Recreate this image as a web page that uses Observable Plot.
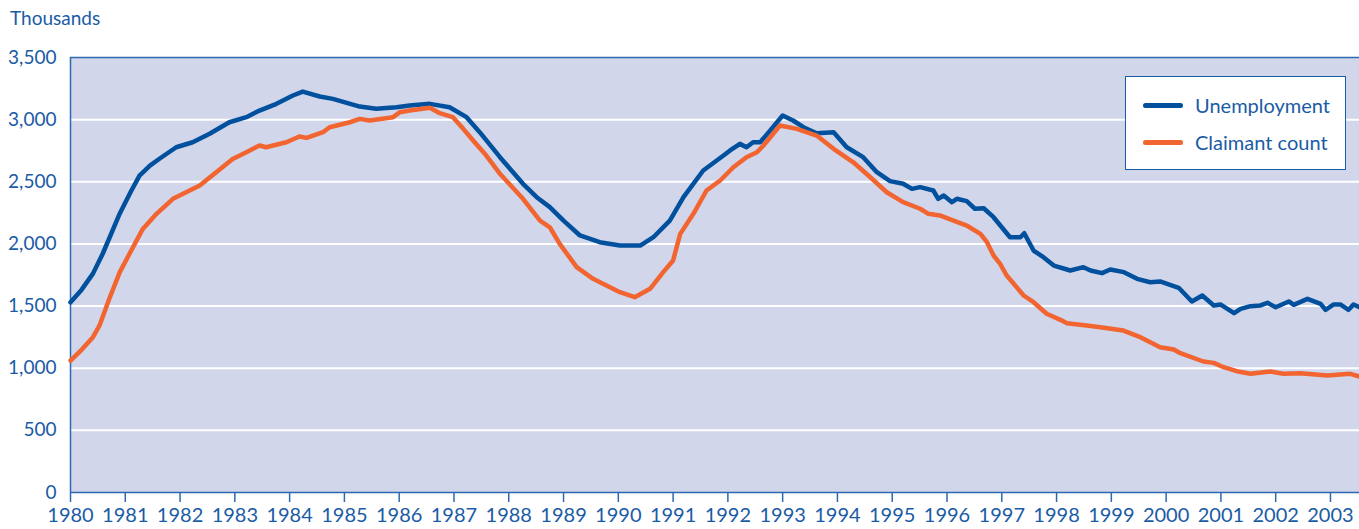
<!DOCTYPE html>
<html><head><meta charset="utf-8">
<script src="https://cdn.jsdelivr.net/npm/d3@7"></script>
<script src="https://cdn.jsdelivr.net/npm/@observablehq/plot@0.6"></script>
<style>
body{margin:0;background:#fff;font-family:Lato,"Open Sans",sans-serif;}
#wrap{position:relative;width:1359px;height:529px;overflow:hidden}
#title{position:absolute;left:10px;top:6px;font-size:19px;color:#1a5ba6}
#legend{position:absolute;left:1125px;top:76px;width:221px;height:94px;background:#fff;border:1.5px solid #1a5ba6;box-sizing:border-box}
.row{position:absolute;left:0;height:22px}
.sw{position:absolute;left:17px;width:40px;height:5px;border-radius:3px}
.lbl{position:absolute;left:69px;font-size:20px;color:#1a5ba6;white-space:nowrap;line-height:22px}
</style></head>
<body>
<div id="wrap">
<div id="chart"></div>
<div id="title">Thousands</div>
<div id="legend"></div>
</div>
<script>
const unempYears = [1980.0,1980.2,1980.41,1980.59,1980.90,1981.1,1981.26,1981.45,1981.63,1981.93,1982.23,1982.54,1982.90,1983.21,1983.45,1983.76,1984.06,1984.24,1984.55,1984.79,1985.28,1985.58,1985.95,1986.19,1986.56,1986.92,1987.23,1987.47,1987.84,1988.26,1988.51,1988.75,1989.0,1989.30,1989.66,1990.03,1990.40,1990.64,1990.94,1991.19,1991.55,1991.92,1992.04,1992.22,1992.34,1992.46,1992.59,1992.77,1993.00,1993.19,1993.38,1993.62,1993.93,1994.17,1994.47,1994.72,1994.96,1995.20,1995.36,1995.51,1995.75,1995.84,1995.94,1996.09,1996.18,1996.36,1996.51,1996.67,1996.85,1997.15,1997.34,1997.41,1997.58,1997.76,1997.95,1998.25,1998.49,1998.62,1998.83,1998.98,1999.23,1999.47,1999.71,1999.89,2000.02,2000.23,2000.47,2000.66,2000.87,2000.99,2001.24,2001.36,2001.54,2001.72,2001.85,2002.00,2002.24,2002.33,2002.58,2002.82,2002.91,2003.06,2003.18,2003.33,2003.42,2003.53];
const unempValues = [1530,1630,1761,1923,2245,2420,2550,2630,2687,2778,2818,2886,2979,3020,3073,3127,3194,3226,3186,3167,3105,3087,3100,3114,3127,3100,3020,2899,2698,2484,2376,2296,2188,2068,2014,1987,1987,2054,2188,2376,2591,2711,2752,2805,2778,2818,2818,2912,3033,2993,2939,2891,2899,2778,2698,2577,2505,2484,2443,2457,2430,2363,2390,2336,2363,2344,2283,2287,2215,2054,2054,2086,1947,1893,1826,1786,1813,1786,1765,1794,1773,1719,1692,1698,1679,1647,1537,1585,1505,1513,1443,1478,1499,1505,1526,1491,1537,1510,1558,1518,1470,1513,1513,1470,1513,1491];
const claimYears = [1980.0,1980.16,1980.41,1980.53,1980.71,1980.90,1981.08,1981.32,1981.57,1981.87,1982.11,1982.36,1982.66,1982.96,1983.21,1983.45,1983.57,1983.94,1984.18,1984.31,1984.61,1984.73,1985.10,1985.28,1985.46,1985.89,1986.01,1986.19,1986.56,1986.74,1986.98,1987.17,1987.35,1987.59,1987.84,1988.26,1988.57,1988.75,1988.93,1989.24,1989.54,1989.72,1990.03,1990.30,1990.58,1990.82,1991.00,1991.13,1991.37,1991.61,1991.86,1992.10,1992.34,1992.53,1992.65,1992.95,1993.26,1993.62,1993.93,1994.29,1994.60,1994.90,1995.20,1995.51,1995.66,1995.87,1996.12,1996.36,1996.61,1996.73,1996.85,1996.97,1997.09,1997.40,1997.58,1997.82,1998.07,1998.19,1998.55,1998.80,1999.22,1999.53,1999.89,2000.14,2000.26,2000.68,2000.87,2001.05,2001.29,2001.54,2001.90,2002.14,2002.45,2002.94,2003.36,2003.53];
const claimValues = [1062,1129,1250,1344,1561,1773,1923,2121,2242,2363,2416,2470,2577,2684,2738,2792,2778,2818,2864,2853,2899,2939,2979,3006,2993,3020,3060,3073,3095,3052,3020,2926,2832,2711,2564,2363,2188,2134,2001,1813,1719,1679,1612,1571,1639,1773,1867,2081,2242,2430,2510,2617,2698,2738,2792,2953,2926,2872,2765,2657,2537,2416,2336,2283,2242,2229,2188,2148,2081,2014,1907,1840,1746,1585,1531,1438,1389,1362,1344,1330,1303,1250,1169,1151,1121,1054,1043,1008,976,955,974,955,960,941,955,933];
const yearTicks = d3.range(1980, 2004);
const valueTicks = [0,500,1000,1500,2000,2500,3000,3500];
const seriesNames = ["Unemployment","Claimant count"];
const seriesColors = ["#00509e","#f26430"];

const unemp = unempYears.map((y,i)=>({year:y,value:unempValues[i]}));
const claim = claimYears.map((y,i)=>({year:y,value:claimValues[i]}));
const axisColor = "#2e68b0";
const textColor = "#1a5ba6";

const chart = Plot.plot({
  width:1359, height:529,
  marginLeft:70, marginRight:0, marginTop:57, marginBottom:37,
  style:{fontFamily:'Lato,"Open Sans",sans-serif', fontSize:"19px", color:textColor, background:"transparent", overflow:"visible"},
  x:{domain:[1980,2003.53], ticks:yearTicks, tickFormat:d=>String(d), tickSize:10, tickPadding:5, label:null},
  y:{domain:[0,3500], ticks:valueTicks, tickFormat:d3.format(","), tickSize:0, tickPadding:14, label:null},
  marks:[
    Plot.frame({fill:"#d1d6ea", stroke:null}),
    Plot.gridY(valueTicks.filter(v=>v>0 && v<3500), {stroke:"#ffffff", strokeOpacity:1, strokeWidth:2}),
    Plot.ruleY([3500], {stroke:axisColor, strokeWidth:1.5}),
    Plot.ruleX([1980], {stroke:axisColor, strokeWidth:1.5}),
    Plot.ruleY([0], {stroke:axisColor, strokeWidth:1.5}),
    Plot.line(unemp, {x:"year", y:"value", stroke:seriesColors[0], strokeWidth:4.5, strokeLinejoin:"round", strokeLinecap:"round"}),
    Plot.line(claim, {x:"year", y:"value", stroke:seriesColors[1], strokeWidth:4.5, strokeLinejoin:"round", strokeLinecap:"round"})
  ]
});
d3.select(chart).selectAll("[aria-label$='axis tick']").attr("stroke", axisColor).attr("stroke-width",1.5);
d3.select(chart).selectAll("[aria-label='x-axis tick label']").style("font-size","20px");
document.getElementById("chart").appendChild(chart);

const legend = document.getElementById("legend");
seriesNames.forEach((n,i)=>{
  const row = document.createElement("div");
  row.className="row";
  row.style.top = (i===0?17:54)+"px";
  row.innerHTML = `<div class="sw" style="top:9px;background:${seriesColors[i]}"></div><div class="lbl">${n}</div>`;
  legend.appendChild(row);
});
</script>
</body></html>
